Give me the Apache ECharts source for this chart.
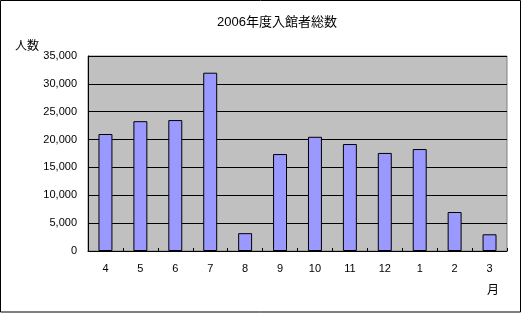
<!DOCTYPE html>
<html>
<head>
<meta charset="utf-8">
<script src="https://cdn.jsdelivr.net/npm/echarts@6/dist/echarts.min.js"></script>
<style>
html,body{margin:0;padding:0;background:#fff;}
#c{width:521px;height:313px;}
</style>
</head>
<body>
<div id="c"></div>
<script>
const titleText = '2006年度入館者総数';
const yAxisName = '人数';
const xAxisName = '月';
const months = ['4','5','6','7','8','9','10','11','12','1','2','3'];
const visitors = [21000, 23300, 23500, 32000, 3200, 17400, 20500, 19200, 17600, 18300, 7000, 3000];
const yMin = 0, yMax = 35000, yStep = 5000;

const font = '"Liberation Sans", "Noto Sans CJK JP", sans-serif';
const chart = echarts.init(document.getElementById('c'), null, {renderer: 'canvas'});
chart.setOption({
  animation: false,
  backgroundColor: '#ffffff',
  textStyle: {fontFamily: font},
  grid: {
    left: 88, top: 56, width: 419, height: 195,
    show: true, backgroundColor: '#c0c0c0', borderColor: '#808080', borderWidth: 1
  },
  xAxis: {
    type: 'category',
    data: months,
    axisLine: {show: true, lineStyle: {color: '#000', width: 1}},
    axisTick: {show: true, inside: true, length: 3, lineStyle: {color: '#000'}},
    axisLabel: {color: '#000', fontSize: 11, margin: 12, fontFamily: font},
    splitLine: {show: false}
  },
  yAxis: {
    type: 'value',
    min: yMin, max: yMax, interval: yStep,
    axisLine: {show: true, lineStyle: {color: '#000', width: 1}},
    axisTick: {show: false},
    axisLabel: {
      color: '#000', fontSize: 11, margin: 11, fontFamily: font,
      formatter: v => v.toLocaleString('en-US')
    },
    splitLine: {show: true, lineStyle: {color: '#000', width: 1}}
  },
  series: [{
    type: 'bar',
    data: visitors,
    barWidth: '40%',
    itemStyle: {color: '#9999ff', borderColor: '#000', borderWidth: 1}
  }],
  graphic: [
    {type: 'text', left: 'center', style: {text: ''}},
    {type: 'text', x: 277, y: 22, style: {text: titleText, fill: '#000', font: '13px ' + font, textAlign: 'center', textVerticalAlign: 'middle'}},
    {type: 'text', x: 27, y: 47, style: {text: yAxisName, fill: '#000', font: '12px ' + font, textAlign: 'center', textVerticalAlign: 'middle'}},
    {type: 'text', x: 493, y: 291, style: {text: xAxisName, fill: '#000', font: '12px ' + font, textAlign: 'center', textVerticalAlign: 'middle'}},
    {type: 'rect', shape: {x: 0.5, y: 0.5, width: 520, height: 311.5}, style: {fill: 'none', stroke: '#000', lineWidth: 1}, z: 100}
  ]
});
</script>
</body>
</html>
